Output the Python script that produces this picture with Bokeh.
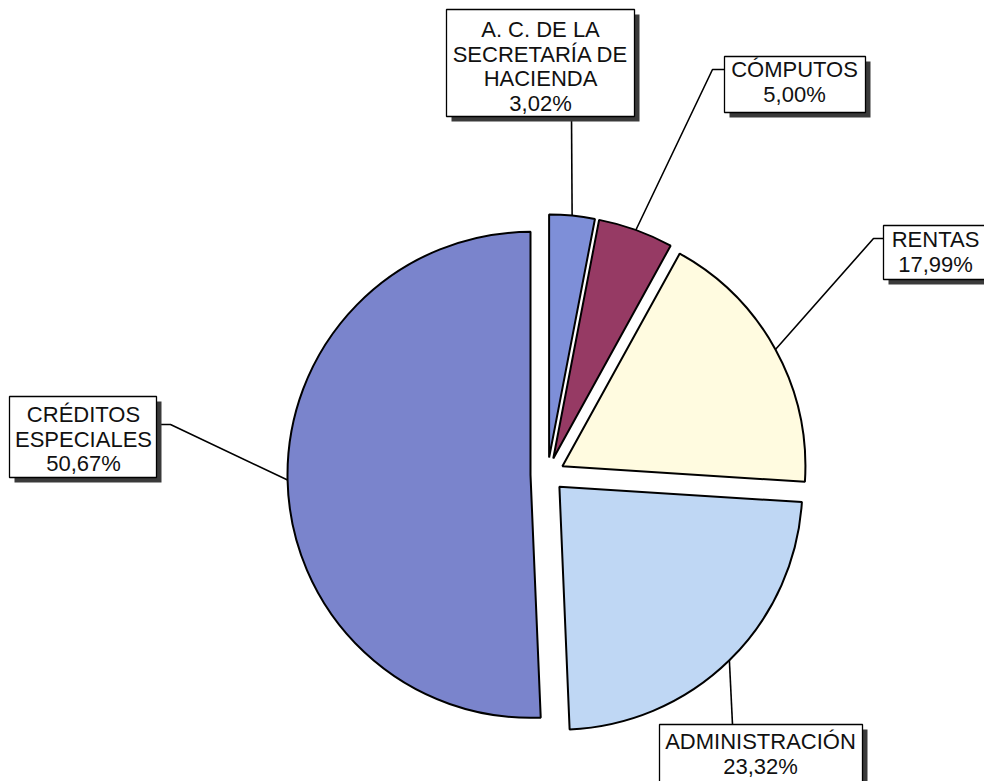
import math
from bokeh.plotting import figure
from bokeh.models import Range1d, ColumnDataSource
from bokeh.core.properties import value
from bokeh.embed import file_html
from bokeh.resources import INLINE

# ---- data (clockwise from 12 o'clock) ----
categories = [["A. C. DE LA", "SECRETARÍA DE", "HACIENDA"], ["CÓMPUTOS"], ["RENTAS"],
              ["ADMINISTRACIÓN"], ["CRÉDITOS", "ESPECIALES"]]
shares = [3.02, 5.00, 17.99, 23.32, 50.67]
colors = ["#7e8fd8", "#963a64", "#fffbe0", "#bfd7f4", "#7a84cc"]

# ---- layout (reference pixel coords, y downward) ----
H = 784
def Y(v):
    return H - v

CX, CY = 548, 475      # pie centre
R = 243                # radius
EXPLODE = 17           # explosion distance
# label boxes: left, right, top, bottom (same order as data)
boxes = [
    (447, 635, 10, 117),
    (725, 866, 57, 113),
    (884, 992, 226, 280),
    (660, 863, 725, 800),
    (10, 157, 397, 478),
]
text_x = [541, 795, 936, 761, 84]
first_baseline = [38, 78, 248, 750, 423]
TEXT_FIX = 8
LINE_STEP = 24.6
elbows = [None, (713, 70), (874, 239), None, (171, 425)]
box_anchor = [(572, 117), (725, 70), (884, 239), (733, 725), (157, 425)]

p = figure(width=984, height=781, x_range=Range1d(1, 985), y_range=Range1d(2, 783),
           output_backend="svg", toolbar_location=None, min_border=0)
p.axis.visible = False
p.grid.visible = False
p.outline_line_color = None
p.background_fill_color = "white"

total = sum(shares)
cum = 0.0
wx, wy, sa, ea, mids = [], [], [], [], []
for s in shares:
    t0 = cum / total * 2 * math.pi
    cum += s
    t1 = cum / total * 2 * math.pi
    tm = (t0 + t1) / 2
    ax = CX + EXPLODE * math.sin(tm)
    ay = Y(CY) + EXPLODE * math.cos(tm)
    wx.append(ax); wy.append(ay)
    sa.append(math.pi / 2 - t1); ea.append(math.pi / 2 - t0)
    mids.append((ax + R * math.sin(tm), ay + R * math.cos(tm)))

src = ColumnDataSource(dict(x=wx, y=wy, s=sa, e=ea, c=colors))
p.wedge(x="x", y="y", radius=R, start_angle="s", end_angle="e", fill_color="c",
        line_color="black", line_width=2, source=src)

# leader lines
for i in range(len(shares)):
    xs = [mids[i][0]]
    ys = [mids[i][1]]
    if elbows[i] is not None:
        xs.append(elbows[i][0]); ys.append(Y(elbows[i][1]))
    xs.append(box_anchor[i][0]); ys.append(Y(box_anchor[i][1]))
    p.line(xs, ys, line_color="black", line_width=1.6)

# boxes with shadow
SH = 5
p.quad(left=[b[0] + SH for b in boxes], right=[b[1] + SH for b in boxes],
       top=[Y(b[2] + SH) for b in boxes], bottom=[Y(b[3] + SH) for b in boxes],
       fill_color="#3a3a3a", line_color=None)
p.quad(left=[b[0] for b in boxes], right=[b[1] for b in boxes],
       top=[Y(b[2]) for b in boxes], bottom=[Y(b[3]) for b in boxes],
       fill_color="white", line_color="black", line_width=1.3)

tx, ty, tt = [], [], []
for i, (lines, s) in enumerate(zip(categories, shares)):
    pct = f"{s:.2f}".replace(".", ",") + "%"
    for k, line in enumerate(lines + [pct]):
        tx.append(text_x[i])
        ty.append(Y(first_baseline[i] - TEXT_FIX + k * LINE_STEP))
        tt.append(line)

p.text(x=tx, y=ty, text=tt, text_align="center", text_baseline="alphabetic",
       text_font=value("Liberation Sans"), text_font_size="22px", text_color="#111111")

open("out.html", "w").write(file_html(p, INLINE))
